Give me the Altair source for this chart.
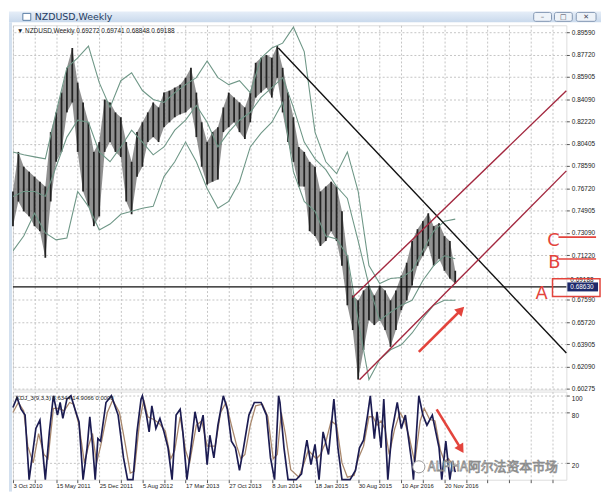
import json
import altair as alt
import pandas as pd

# ---------------- data ----------------
bar_weeks = list(range(0, 329, 4))  # weeks since 3 Oct 2010
price_high = [0.7648, 0.7974, 0.7852, 0.7811, 0.7770, 0.7729, 0.7689, 0.8137, 0.8299, 0.8462,
              0.8666, 0.8829, 0.8544, 0.8381, 0.8218, 0.7974, 0.8055, 0.8405, 0.8381, 0.8299,
              0.8259, 0.8055, 0.7892, 0.8137, 0.8218, 0.8299, 0.8381, 0.8340, 0.8462, 0.8478,
              0.8503, 0.8527, 0.8584, 0.8666, 0.8462, 0.8218, 0.8055, 0.8137, 0.8177, 0.8340,
              0.8462, 0.8421, 0.8381, 0.8340, 0.8462, 0.8707, 0.8748, 0.8772, 0.8748, 0.8845,
              0.8666, 0.8462, 0.8259, 0.8014, 0.7974, 0.7892, 0.7852, 0.7648, 0.7689, 0.7729,
              0.7689, 0.7485, 0.7119, 0.6793, 0.6752, 0.6834, 0.6874, 0.6793, 0.6874, 0.6834,
              0.6752, 0.6834, 0.6956, 0.7062, 0.7241, 0.7338, 0.7404, 0.7469, 0.7363, 0.7387,
              0.7281, 0.7241, 0.6996]
price_low = [0.7363, 0.7566, 0.7485, 0.7444, 0.7363, 0.7322, 0.7103, 0.7566, 0.7892, 0.7974,
             0.8299, 0.8381, 0.7974, 0.7648, 0.7526, 0.7363, 0.7444, 0.7974, 0.8055, 0.7974,
             0.7933, 0.7566, 0.7461, 0.7770, 0.7852, 0.8055, 0.8096, 0.8055, 0.8177, 0.8218,
             0.8259, 0.8283, 0.8299, 0.8340, 0.8096, 0.7852, 0.7705, 0.7729, 0.7746, 0.8137,
             0.8177, 0.8218, 0.8137, 0.8080, 0.8218, 0.8421, 0.8462, 0.8503, 0.8421, 0.8584,
             0.8299, 0.8055, 0.7892, 0.7689, 0.7689, 0.7322, 0.7281, 0.7200, 0.7241, 0.7322,
             0.7241, 0.7037, 0.6712, 0.6508, 0.6101, 0.6345, 0.6589, 0.6549, 0.6589, 0.6508,
             0.6370, 0.6508, 0.6671, 0.6752, 0.6874, 0.7037, 0.7119, 0.7200, 0.7037, 0.7094,
             0.6996, 0.6931, 0.6890]

band_weeks = list(range(0, 329, 8))
bb_upper = [0.7974, 0.7950, 0.7933, 0.7917, 0.8300, 0.8666, 0.8747, 0.8845, 0.8544, 0.8340,
            0.8560, 0.8625, 0.8479, 0.8405, 0.8381, 0.8462, 0.8528, 0.8585, 0.8723, 0.8585,
            0.8528, 0.8560, 0.8462, 0.8747, 0.8829, 0.8869, 0.9000, 0.8800, 0.8137, 0.7893,
            0.7795, 0.7974, 0.7650, 0.7038, 0.6891, 0.6932, 0.6940, 0.6997, 0.7160, 0.7323,
            0.7404, 0.7421]
bb_middle = [0.7608, 0.7648, 0.7648, 0.7608, 0.7852, 0.8096, 0.8235, 0.8218, 0.7974, 0.7893,
             0.8015, 0.8153, 0.8055, 0.7950, 0.8015, 0.8153, 0.8235, 0.8357, 0.8218, 0.8015,
             0.8137, 0.8235, 0.8300, 0.8422, 0.8503, 0.8585, 0.8340, 0.8055, 0.7917, 0.7828,
             0.7689, 0.7591, 0.7241, 0.6875, 0.6590, 0.6655, 0.6712, 0.6753, 0.6916, 0.7038,
             0.7119, 0.7095]
bb_lower = [0.7160, 0.7282, 0.7469, 0.7307, 0.7250, 0.7266, 0.7648, 0.7526, 0.7331, 0.7380,
            0.7461, 0.7485, 0.7510, 0.7526, 0.7771, 0.7893, 0.8055, 0.7893, 0.7673, 0.7510,
            0.7567, 0.7729, 0.8015, 0.8129, 0.8218, 0.8381, 0.7811, 0.7567, 0.7485, 0.7282,
            0.7258, 0.7119, 0.6590, 0.6101, 0.6265, 0.6346, 0.6387, 0.6484, 0.6607, 0.6712,
            0.6753, 0.6753]

k_weeks = [0, 3, 6, 9, 12, 17, 20, 24, 27, 30, 33, 35, 37, 40, 43, 46, 49, 50, 52, 55,
           57, 59, 61, 63, 65, 69, 73, 78, 82, 85, 89, 92, 95, 96, 99, 101, 103, 106, 109, 112,
           115, 118, 121, 124, 126, 129, 132, 135, 138, 141, 144, 146, 149, 152, 156, 159, 162, 165, 168, 171,
           175, 179, 184, 188, 191, 194, 197, 198, 201, 204, 210, 214, 217, 218, 221, 224, 227, 230, 234, 238,
           241, 244, 250, 254, 257, 260, 263, 265, 268, 270, 273, 275, 278, 281, 285, 288, 291, 296, 297, 301,
           304, 307, 311, 316, 318, 321, 324, 326, 328]
k_vals = [86, 98, 84, 77, 0, 61, 71, 0, 57, 100, 77, 92, 73, 96, 100, 84, 69, 46, 0, 38,
          75, 42, 0, 49, 46, 92, 100, 77, 26, 0, 0, 57, 96, 100, 77, 57, 88, 61, 73, 57,
          38, 0, 77, 84, 57, 0, 38, 81, 57, 77, 18, 53, 26, 65, 100, 84, 46, 38, 11, 38,
          77, 92, 92, 77, 26, 0, 100, 92, 38, 0, 0, 7, 38, 47, 18, 42, 0, 57, 30, 96,
          38, 0, 0, 11, 38, 47, 77, 100, 49, 81, 38, 96, 0, 57, 92, 61, 77, 18, 0, 100,
          77, 65, 77, 38, 0, 46, 0, 22, 9]
d_weeks = [0, 4, 8, 11, 15, 19, 23, 26, 30, 34, 38, 42, 45, 49, 53, 56, 59, 62, 65, 70,
           74, 79, 83, 87, 90, 94, 97, 100, 104, 108, 113, 117, 120, 124, 128, 131, 136, 140, 144, 147,
           150, 154, 158, 162, 166, 169, 172, 176, 180, 185, 189, 193, 196, 199, 202, 206, 212, 216, 219, 222,
           225, 228, 232, 236, 240, 244, 248, 253, 256, 260, 264, 267, 270, 273, 276, 279, 283, 287, 290, 294,
           298, 302, 305, 309, 313, 317, 320, 323, 326, 328]
d_vals = [80, 92, 82, 40, 20, 55, 30, 25, 85, 85, 82, 92, 90, 65, 20, 40, 55, 20, 40, 80,
          95, 80, 45, 8, 10, 70, 95, 75, 72, 68, 58, 25, 35, 75, 35, 20, 65, 70, 40, 40,
          40, 80, 92, 65, 40, 25, 30, 65, 88, 90, 75, 25, 30, 80, 55, 12, 3, 20, 35, 30,
          25, 30, 45, 70, 65, 20, 3, 5, 25, 40, 75, 75, 65, 70, 60, 30, 60, 80, 72, 50,
          20, 70, 85, 72, 70, 35, 22, 25, 18, 15]

date_labels = ["3 Oct 2010", "15 May 2011", "25 Dec 2011", "5 Aug 2012", "17 Mar 2013",
               "27 Oct 2013", "8 Jun 2014", "18 Jan 2015", "30 Aug 2015", "10 Apr 2016",
               "20 Nov 2016"]
label_weeks = list(range(0, 321, 32))
grid_weeks = list(range(0, 401, 16))
price_ticks = [0.89590, 0.87720, 0.85905, 0.84090, 0.82220, 0.80405, 0.78590, 0.76720, 0.74905,
               0.73090, 0.71220, 0.69405, 0.67590, 0.65720, 0.63905, 0.62090, 0.60275]
price_labels = ["0.89590", "0.87720", "0.85905", "0.84090", "0.82220", "0.80405", "0.78590",
                "0.76720", "0.74905", "0.73090", "0.71220", "", "0.67590", "0.65720", "0.63905",
                "0.62090", "0.60275"]
osc_ticks = [20, 80, 100]

h_level = 0.6863
last_close = 0.69188
trend_black_w = [196.8, 410.4]
trend_black_p = [0.8829, 0.6319]
chan_upper_w = [251.8, 410.4]
chan_upper_p = [0.6776, 0.8478]
chan_lower_w = [257.0, 410.4]
chan_lower_p = [0.6099, 0.7818]
arrow_main_w = [301.0, 331.5]
arrow_main_p = [0.6328, 0.6665]
arrow_osc_w = [314.2, 331.8]
arrow_osc_v = [83.8, 38.0]
letter_text = ["C", "B", "A"]
letter_p = [0.7240, 0.7061, 0.6808]
mark_line_p = [0.7273, 0.7093]
red_box_p = [0.6930, 0.6784]

header_main = "\u25BC NZDUSD,Weekly  0.69272 0.69741 0.68848 0.69188"
header_osc = "KDJ_3(9,3,3) 8.6344 14.9066 0.0000"
window_title = "NZDUSD,Weekly"
watermark = "ALPHA阿尔法资本市场"

# ---------------- layout / style ----------------
FONT = "Liberation Sans"
W, HM, HO = 559, 368, 89
XD = [0, 410.4]
YD = [0.6018, 0.9016]
OD = [0, 105]
RED = "#e3443c"
CHAN = "#a3283f"
BAND = "#6f9787"

lw = json.dumps(label_weeks)
x_label_expr = f"indexof({lw}, datum.value) >= 0 ? {json.dumps(date_labels)}[indexof({lw}, datum.value)] : ''"
pt = json.dumps(price_ticks)
y_label_expr = f"indexof({pt}, datum.value) >= 0 ? {json.dumps(price_labels)}[indexof({pt}, datum.value)] : ''"

xscale = alt.Scale(domain=XD, nice=False, zero=False)
yscale = alt.Scale(domain=YD, nice=False, zero=False)
oscale = alt.Scale(domain=OD, nice=False, zero=False)

x_axis_main = alt.Axis(values=grid_weeks, labels=False, ticks=False, domain=False, grid=True,
                       gridDash=[2, 2], gridColor="#c4c4c4", title=None)
x_axis_osc = alt.Axis(values=grid_weeks, labelExpr=x_label_expr, labelAlign="left",
                      labelFont=FONT, labelFontSize=6, labelColor="#222", labelPadding=0,
                      tickSize=3, tickColor="#555", domain=False, grid=True, gridDash=[2, 2],
                      gridColor="#c4c4c4", title=None, labelOverlap=False, labelFlush=False)
y_axis_main = alt.Axis(orient="right", values=price_ticks, labelExpr=y_label_expr,
                       labelFont=FONT, labelFontSize=6.5, labelColor="#222", labelPadding=2,
                       tickSize=3, tickColor="#555", domain=False, grid=True, gridDash=[2, 2],
                       gridColor="#c4c4c4", title=None, labelOverlap=False)
y_axis_osc = alt.Axis(orient="right", values=osc_ticks, labelFont=FONT, labelFontSize=6.5,
                      labelColor="#222", labelPadding=2, labelBaseline="top", tickSize=3,
                      tickColor="#555", domain=False, grid=True, gridDash=[2, 2],
                      gridColor="#c4c4c4", title=None)

XM = alt.X("w:Q", scale=xscale, axis=x_axis_main)
YM = alt.Y("p:Q", scale=yscale, axis=y_axis_main)
XO = alt.X("w:Q", scale=xscale, axis=x_axis_osc)
YO = alt.Y("v:Q", scale=oscale, axis=y_axis_osc)

one = pd.DataFrame({"a": [0]})

# ---------------- main panel ----------------
bars_df = pd.DataFrame({"w": bar_weeks, "p": price_low, "p2": price_high})
bar_band = alt.Chart(bars_df).mark_area(color="#474747", opacity=0.6).encode(x=XM, y=YM, y2="p2:Q")
bars = alt.Chart(bars_df).mark_rule(strokeWidth=1.8, color="#222222").encode(x=XM, y=YM, y2="p2:Q")

band_df = pd.concat([
    pd.DataFrame({"w": band_weeks, "p": bb_upper, "s": "up"}),
    pd.DataFrame({"w": band_weeks, "p": bb_middle, "s": "mid"}),
    pd.DataFrame({"w": band_weeks, "p": bb_lower, "s": "low"}),
])
bands = alt.Chart(band_df).mark_line(strokeWidth=1.1, color=BAND, clip=True).encode(x=XM, y=YM, detail="s:N")

hline = alt.Chart(pd.DataFrame({"p": [h_level]})).mark_rule(color="#111", strokeWidth=1.3).encode(y=YM)

black_df = pd.DataFrame({"w": trend_black_w, "p": trend_black_p})
black = alt.Chart(black_df).mark_line(color="#111", strokeWidth=1.4).encode(x=XM, y=YM)

chan_df = pd.concat([
    pd.DataFrame({"w": chan_upper_w, "p": chan_upper_p, "s": "u"}),
    pd.DataFrame({"w": chan_lower_w, "p": chan_lower_p, "s": "l"}),
])
chan = alt.Chart(chan_df).mark_line(color=CHAN, strokeWidth=1.4).encode(x=XM, y=YM, detail="s:N")

am_df = pd.DataFrame({"w": arrow_main_w, "p": arrow_main_p})
am_line = alt.Chart(am_df).mark_line(color=RED, strokeWidth=2.6).encode(x=XM, y=YM)
am_head = alt.Chart(am_df.iloc[[1]]).mark_point(shape="triangle", filled=True, color=RED, size=110,
                                                angle=45, opacity=1).encode(x=XM, y=YM)

head_txt = alt.Chart(one).mark_text(text=header_main, align="left", baseline="middle", font=FONT,
                                    fontSize=6.5, color="#222").encode(x=alt.value(4), y=alt.value(6))

# right-gutter annotations
navy = alt.Chart(pd.DataFrame({"p": [h_level + 0.0037], "p2": [h_level - 0.0037]})).mark_rect(
    color="#1d2a6b").encode(x=alt.value(560), x2=alt.value(591), y=YM, y2="p2:Q")
close_txt = alt.Chart(pd.DataFrame({"p": [last_close]})).mark_text(
    text="0.69188", align="left", baseline="middle", font=FONT, fontSize=6.5, color="#111").encode(
    x=alt.value(563), y=YM)
navy_txt = alt.Chart(pd.DataFrame({"p": [h_level]})).mark_text(
    text="0.68630", align="left", baseline="middle", font=FONT, fontSize=6.5, color="white").encode(
    x=alt.value(563), y=YM)
redbox = alt.Chart(pd.DataFrame({"p": [red_box_p[0]], "p2": [red_box_p[1]]})).mark_rect(
    fill=None, fillOpacity=0, stroke=RED, strokeWidth=1.5).encode(
    x=alt.value(545), x2=alt.value(593), y=YM, y2="p2:Q")
marks_df = pd.DataFrame({"p": mark_line_p})
red_marks = alt.Chart(marks_df).mark_rule(color=RED, strokeWidth=1.6).encode(
    x=alt.value(551), x2=alt.value(589), y=YM)
letters_df = pd.DataFrame({"t": letter_text, "p": letter_p, "xo": [546, 547, 534]})
letters = alt.Chart(letters_df).mark_text(font="DejaVu Sans", fontSize=18, color=RED, fontWeight="normal",
                                          baseline="middle", align="center").encode(
    text="t:N", x=alt.X("xo:Q", scale=None), y=YM)

# window chrome (title bar, left frame)
tbar = alt.Chart(one).mark_rect(
    fill=alt.Gradient(gradient="linear", x1=0, x2=0, y1=0, y2=1,
                      stops=[alt.GradientStop(color="#e6eef8", offset=0),
                             alt.GradientStop(color="#c9d9ec", offset=1)])).encode(
    x=alt.value(-4), x2=alt.value(594), y=alt.value(-14), y2=alt.value(-3))
tbar_txt = alt.Chart(one).mark_text(text=window_title, align="left", baseline="middle", font="DejaVu Sans",
                                    fontSize=9.5, color="#1e3a60").encode(x=alt.value(22), y=alt.value(-8))
icon = alt.Chart(one).mark_rect(fill="#ffffff", stroke="#5b7fa6", strokeWidth=1).encode(
    x=alt.value(10), x2=alt.value(18), y=alt.value(-12), y2=alt.value(-5))
btn_df = pd.DataFrame({"x1": [526, 547, 569], "x2": [544, 565, 589], "g": ["\u2013", "\u25A1", "\u2715"]})
btns = alt.Chart(btn_df).mark_rect(fill="#eef3f9", stroke="#8397b2", strokeWidth=1, cornerRadius=2).encode(
    x=alt.X("x1:Q", scale=None), x2="x2:Q", y=alt.value(-13), y2=alt.value(-4))
btn_df["xm"] = (btn_df["x1"] + btn_df["x2"]) / 2
btn_txt = alt.Chart(btn_df).mark_text(font="DejaVu Sans", fontSize=7, color="#445").encode(
    x=alt.X("xm:Q", scale=None), y=alt.value(-8), text="g:N")
lframe_m = alt.Chart(one).mark_rect(fill="#d3e0ef").encode(
    x=alt.value(-4), x2=alt.value(-1), y=alt.value(-3), y2=alt.value(HM + 3))

main = alt.layer(
    lframe_m, bar_band, bars, bands, hline, black, chan, am_line, am_head, head_txt,
    navy, close_txt, navy_txt, redbox, red_marks, letters,
    tbar, icon, tbar_txt, btns, btn_txt,
).properties(width=W, height=HM)

# ---------------- oscillator panel ----------------
d_df = pd.DataFrame({"w": d_weeks, "v": d_vals})
k_df = pd.DataFrame({"w": k_weeks, "v": k_vals})
d_line = alt.Chart(d_df).mark_line(color="#a8876c", strokeWidth=1.3).encode(x=XO, y=YO)
k_line = alt.Chart(k_df).mark_line(color="#1c1c52", strokeWidth=1.7).encode(x=XO, y=YO)
osc_txt = alt.Chart(one).mark_text(text=header_osc, align="left", baseline="middle", font=FONT,
                                   fontSize=6, color="#222").encode(x=alt.value(3), y=alt.value(7))
ao_df = pd.DataFrame({"w": arrow_osc_w, "v": arrow_osc_v})
ao_line = alt.Chart(ao_df).mark_line(color=RED, strokeWidth=2.6).encode(x=XO, y=YO)
ao_head = alt.Chart(ao_df.iloc[[1]]).mark_point(shape="triangle", filled=True, color=RED, size=110,
                                                angle=148, opacity=1).encode(x=XO, y=YO)
logo = alt.Chart(one).mark_point(shape="circle", filled=True, fill="white", stroke="#9a9a9a",
                                 strokeWidth=1, size=150, opacity=1).encode(x=alt.value(410), y=alt.value(76))
wm = alt.Chart(one).mark_text(text=watermark, align="left", baseline="middle", font="Noto Sans CJK SC",
                              fontSize=13, fill="white", stroke="#8c8c8c", strokeWidth=0.8).encode(
    x=alt.value(419), y=alt.value(76))
lframe_o = alt.Chart(one).mark_rect(fill="#d3e0ef").encode(
    x=alt.value(-4), x2=alt.value(-1), y=alt.value(-3), y2=alt.value(HO + 12))

osc = alt.layer(lframe_o, d_line, k_line, osc_txt, ao_line, ao_head, logo, wm).properties(width=W, height=HO)

chart = alt.vconcat(main, osc, spacing=2, bounds="flush").properties(
    padding={"left": 0, "top": 0, "right": 0, "bottom": 0}
).configure_view(stroke="#5a5a5a", strokeWidth=1).configure(background="white")

chart.save("out.html", embed_options={"renderer": "svg", "actions": False})
